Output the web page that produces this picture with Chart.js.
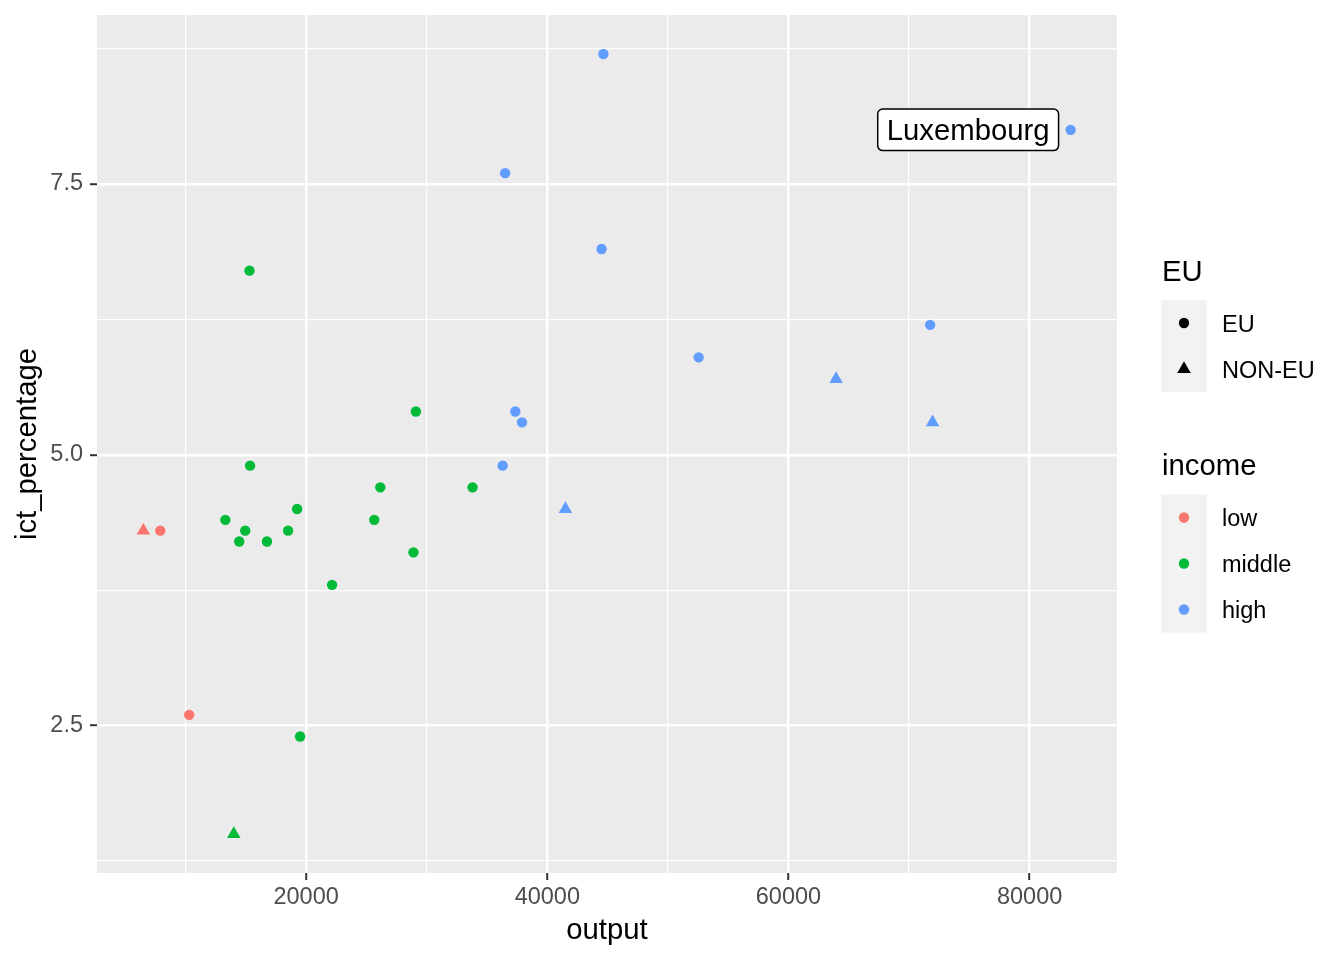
<!DOCTYPE html>
<html>
<head>
<meta charset="utf-8">
<script src="https://cdn.jsdelivr.net/npm/chart.js@4"></script>
<style>
  html, body { margin: 0; padding: 0; background: #fff; }
  canvas { display: block; }
</style>
</head>
<body>
<canvas id="grafico" width="1344" height="960"></canvas>
<script>
const FONTE = '"Liberation Sans", Arial, Helvetica, sans-serif';

// valores
const outputVals = [6500, 7900, 10300, 13300, 14000, 14450, 14950, 15350, 15300, 16750,
                    18500, 19250, 19500, 22150, 25650, 26150, 28900, 29100, 33800, 36300,
                    36500, 37350, 37900, 41500, 44500, 44650, 52550, 63950, 71750, 71950,
                    83400];
const ictVals = [4.3, 4.3, 2.6, 4.4, 1.5, 4.2, 4.3, 4.9, 6.7, 4.2,
                 4.3, 4.5, 2.4, 3.8, 4.4, 4.7, 4.1, 5.4, 4.7, 4.9,
                 7.6, 5.4, 5.3, 4.5, 6.9, 8.7, 5.9, 5.7, 6.2, 5.3,
                 8.0];
const incomeVals = ["low", "low", "low", "middle", "middle", "middle", "middle", "middle", "middle", "middle",
                    "middle", "middle", "middle", "middle", "middle", "middle", "middle", "middle", "middle", "high",
                    "high", "high", "high", "high", "high", "high", "high", "high", "high", "high",
                    "high"];
const euVals = ["NON-EU", "EU", "EU", "EU", "NON-EU", "EU", "EU", "EU", "EU", "EU",
                "EU", "EU", "EU", "EU", "EU", "EU", "EU", "EU", "EU", "EU",
                "EU", "EU", "EU", "NON-EU", "EU", "EU", "EU", "NON-EU", "EU", "NON-EU",
                "EU"];

const INCOME_LEVELS = ["low", "middle", "high"];
const EU_LEVELS = ["EU", "NON-EU"];
const CORES = { low: "#F8766D", middle: "#00BA38", high: "#619CFF" };
const FORMAS = { "EU": "circle", "NON-EU": "triangle" };

const xTicks = [10000, 20000, 30000, 40000, 50000, 60000, 70000, 80000];
const xLabels = [20000, 40000, 60000, 80000];
const yTicks = [1.25, 2.5, 3.75, 5.0, 6.25, 7.5, 8.75];
const yLabels = [2.5, 5.0, 7.5];

const rotuloIndice = 30;
const rotuloTexto = "Luxembourg";
const rotuloNudgeX = -8500;

// expansao de 5% como no ggplot
function limites(vals) {
    const mn = Math.min(...vals), mx = Math.max(...vals);
    const d = (mx - mn) * 0.05;
    return [mn - d, mx + d];
}
const [xMin, xMax] = limites(outputVals);
const [yMin, yMax] = limites(ictVals);

function raio(forma) { return forma === "triangle" ? 7.8 : 5.2; }

const datasets = [];
INCOME_LEVELS.forEach(inc => {
    EU_LEVELS.forEach(eu => {
        const pts = [];
        outputVals.forEach((v, i) => {
            if (incomeVals[i] === inc && euVals[i] === eu) pts.push({ x: v, y: ictVals[i] });
        });
        if (pts.length === 0) return;
        datasets.push({
            label: inc + " " + eu,
            data: pts,
            backgroundColor: CORES[inc],
            borderWidth: 0,
            pointStyle: FORMAS[eu],
            pointRadius: raio(FORMAS[eu]),
            pointHoverRadius: raio(FORMAS[eu])
        });
    });
});

const isMajorX = v => xLabels.includes(v);
const isMajorY = v => yLabels.some(l => Math.abs(l - v) < 1e-9);

const painelPlugin = {
    id: "painel",
    beforeDraw(chart) {
        const { ctx, chartArea: a } = chart;
        ctx.save();
        ctx.fillStyle = "#EBEBEB";
        ctx.fillRect(a.left, a.top, a.right - a.left, a.bottom - a.top);
        ctx.restore();
    }
};

const rotuloPlugin = {
    id: "rotulo",
    afterDatasetsDraw(chart) {
        const ctx = chart.ctx;
        const cx = chart.scales.x.getPixelForValue(outputVals[rotuloIndice] + rotuloNudgeX);
        const cy = chart.scales.y.getPixelForValue(ictVals[rotuloIndice]);
        ctx.save();
        ctx.font = "29.3px " + FONTE;
        const tw = ctx.measureText(rotuloTexto).width;
        const w = tw + 18, h = 41.5;
        ctx.beginPath();
        ctx.roundRect(cx - w / 2, cy - h / 2, w, h, 5);
        ctx.fillStyle = "#fff";
        ctx.fill();
        ctx.lineWidth = 1.5;
        ctx.strokeStyle = "#000";
        ctx.stroke();
        ctx.fillStyle = "#000";
        ctx.textAlign = "center";
        ctx.textBaseline = "alphabetic";
        ctx.fillText(rotuloTexto, cx, cy + 10.5);
        ctx.restore();
    }
};

const legendaPlugin = {
    id: "legenda",
    afterDraw(chart) {
        const ctx = chart.ctx;
        const x0 = 1161, key = 46;
        ctx.save();
        ctx.textAlign = "left";
        ctx.textBaseline = "alphabetic";

        // EU
        ctx.fillStyle = "#000";
        ctx.font = "29.3px " + FONTE;
        ctx.fillText("EU", x0 + 1, 281);
        ctx.fillStyle = "#F2F2F2";
        ctx.fillRect(x0, 300, key, key * EU_LEVELS.length);
        EU_LEVELS.forEach((eu, i) => {
            const cy = 300 + key * i + key / 2;
            ctx.fillStyle = "#000";
            ctx.beginPath();
            if (FORMAS[eu] === "triangle") {
                const r = 7.8;
                ctx.moveTo(x0 + 23, cy - r);
                ctx.lineTo(x0 + 23 + r * Math.sqrt(3) / 2, cy + r / 2);
                ctx.lineTo(x0 + 23 - r * Math.sqrt(3) / 2, cy + r / 2);
                ctx.closePath();
            } else {
                ctx.arc(x0 + 23, cy, 5.2, 0, Math.PI * 2);
            }
            ctx.fill();
            ctx.font = "23.5px " + FONTE;
            ctx.fillText(eu, 1222, cy + 8.5);
        });

        // income
        ctx.font = "29.3px " + FONTE;
        ctx.fillText("income", x0 + 1, 475);
        ctx.fillStyle = "#F2F2F2";
        ctx.fillRect(x0, 494.5, key, key * INCOME_LEVELS.length);
        INCOME_LEVELS.forEach((inc, i) => {
            const cy = 494.5 + key * i + key / 2;
            ctx.fillStyle = CORES[inc];
            ctx.beginPath();
            ctx.arc(x0 + 23, cy, 5.2, 0, Math.PI * 2);
            ctx.fill();
            ctx.fillStyle = "#000";
            ctx.font = "23.5px " + FONTE;
            ctx.fillText(inc, 1222, cy + 8.5);
        });
        ctx.restore();
    }
};

const ctx = document.getElementById("grafico").getContext("2d");
new Chart(ctx, {
    type: "scatter",
    data: { datasets: datasets },
    options: {
        responsive: false,
        animation: false,
        layout: { padding: { top: 15, right: 227, left: 0, bottom: 0 } },
        plugins: {
            legend: { display: false },
            tooltip: { enabled: false }
        },
        scales: {
            x: {
                type: "linear",
                min: xMin,
                max: xMax,
                afterFit: s => { s.height = 87; s.paddingLeft = 0; s.paddingRight = 0; },
                afterBuildTicks: s => { s.ticks = xTicks.map(v => ({ value: v })); },
                border: { display: false },
                grid: {
                    color: "#FFFFFF",
                    lineWidth: c => isMajorX(c.tick.value) ? 2.4 : 1.2,
                    tickLength: 7,
                    tickWidth: 2,
                    tickColor: c => isMajorX(c.tick.value) ? "#333333" : "rgba(0,0,0,0)"
                },
                ticks: {
                    autoSkip: false,
                    maxRotation: 0,
                    padding: 3,
                    color: "#4D4D4D",
                    font: { family: FONTE, size: 23.5 },
                    callback: v => isMajorX(v) ? String(v) : ""
                },
                title: {
                    display: true,
                    text: "output",
                    color: "#000",
                    font: { family: FONTE, size: 29.3 },
                    padding: { top: 0, bottom: 12 }
                }
            },
            y: {
                type: "linear",
                min: yMin,
                max: yMax,
                afterFit: s => { s.width = 97; s.paddingTop = 0; s.paddingBottom = 0; },
                afterBuildTicks: s => { s.ticks = yTicks.map(v => ({ value: v })); },
                border: { display: false },
                grid: {
                    color: "#FFFFFF",
                    lineWidth: c => isMajorY(c.tick.value) ? 2.4 : 1.2,
                    tickLength: 7,
                    tickWidth: 2,
                    tickColor: c => isMajorY(c.tick.value) ? "#333333" : "rgba(0,0,0,0)"
                },
                ticks: {
                    autoSkip: false,
                    padding: 7,
                    color: "#4D4D4D",
                    font: { family: FONTE, size: 23.5 },
                    callback: v => isMajorY(v) ? v.toFixed(1) : ""
                },
                title: {
                    display: true,
                    text: "ict_percentage",
                    color: "#000",
                    font: { family: FONTE, size: 29.3 },
                    padding: { top: 10.5, bottom: 0 }
                }
            }
        }
    },
    plugins: [painelPlugin, rotuloPlugin, legendaPlugin]
});
</script>
</body>
</html>
